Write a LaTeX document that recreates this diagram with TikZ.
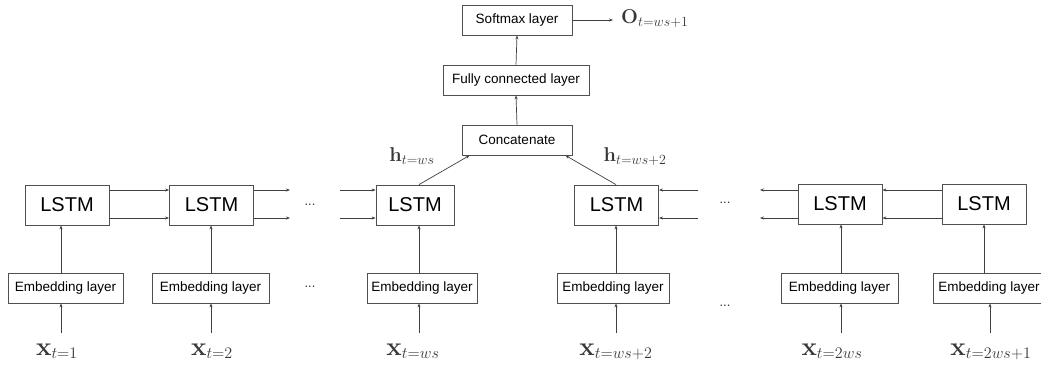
\documentclass[tikz,border=0pt]{standalone}
\usepackage{fix-cm}
\usepackage[no-math]{fontspec}
\setmainfont{Liberation Sans}
\usetikzlibrary{arrows.meta,calc}
\definecolor{boxgray}{HTML}{505050}
\definecolor{linegray}{HTML}{404040}
\definecolor{labelgray}{HTML}{383838}
% subscript of the input symbols: script style (tight spacing) at about 16pt
\newcommand{\insub}[1]{\mbox{\fontsize{23}{26}\selectfont$\scriptstyle #1$}}

\begin{document}
\begin{tikzpicture}[x=1pt,y=-1pt,
  box/.style={draw=boxgray, line width=0.8pt, inner sep=0pt, minimum height=30pt,
              font=\fontsize{13.5}{16}\selectfont},
  lstm/.style={box, minimum height=40pt, minimum width=84pt, font=\fontsize{20}{24}\selectfont},
  emb/.style={box, minimum width=115pt},
  arr/.style={draw=linegray, line width=0.7pt, -{Stealth[length=4pt,width=3pt]}},
  sym/.style={text=labelgray, font=\fontsize{26}{30}\selectfont, anchor=base, inner sep=0pt},
  hsym/.style={sym, font=\fontsize{20}{24}\selectfont},
  dotsnode/.style={font=\fontsize{13}{15}\selectfont, text=black!80, inner sep=0pt}
]
\useasboundingbox (0,0) rectangle (1041,365);

% LSTM cells
\node[lstm] (L1) at (67,205) {LSTM};
\node[lstm] (L2) at (211.5,205) {LSTM};
\node[lstm, minimum width=78pt] (L3) at (415,205) {LSTM};
\node[lstm] (L4) at (616.5,205) {LSTM};
\node[lstm] (L5) at (840,204) {LSTM};
\node[lstm] (L6) at (984,204) {LSTM};

% embedding layers
\node[emb] (E1) at (65.5,288) {Embedding layer};
\node[emb, minimum width=117pt] (E2) at (210.5,288) {Embedding layer};
\node[emb, minimum width=110pt] (E3) at (422,288) {Embedding layer};
\node[emb, minimum width=112pt] (E4) at (613,288) {Embedding layer};
\node[emb, minimum width=117pt] (E5) at (839.5,288) {Embedding layer};
\node[emb, minimum width=112pt] (E6) at (989,288) {Embedding layer};

% head of the network
\node[box, minimum width=110pt] (C) at (517,140) {Concatenate};
\node[box, minimum width=146pt] (F) at (516,80) {Fully connected layer};
\node[box, minimum width=110pt] (S) at (517,20) {Softmax layer};

% input symbols
\node[sym] (x1) at (57,355) {$\mathbf{x}_{\insub{t=1}}$};
\node[sym] (x2) at (212,355) {$\mathbf{x}_{\insub{t=2}}$};
\node[sym] (x3) at (413,355) {$\mathbf{x}_{\insub{t=ws}}$};
\node[sym] (x4) at (616,355) {$\mathbf{x}_{\insub{t=ws+2}}$};
\node[sym] (x5) at (832,355) {$\mathbf{x}_{\insub{t=2ws}}$};
\node[sym] (x6) at (991,355) {$\mathbf{x}_{\insub{t=2ws+1}}$};

% hidden states and output
\node[hsym] (h1) at (412,161) {$\mathbf{h}_{t=ws}$};
\node[hsym] (h2) at (635,161) {$\mathbf{h}_{t=ws+2}$};
\node[hsym, anchor=base west] (O) at (621,23) {$\mathbf{O}_{t=ws+1}$};
\coordinate (oend) at (613,20);

% ellipses
\node[dotsnode] (d1) at (310,205) {...};
\node[dotsnode] (d2) at (725,203) {...};
\node[dotsnode] (d3) at (310,287) {...};
\node[dotsnode] (d4) at (725,306) {...};

% helper coordinates
\coordinate (c1) at (61,333);
\coordinate (c2) at (211,333);
\coordinate (c3) at (419,333);
\coordinate (c4) at (616,333);
\coordinate (c5) at (841,333);
\coordinate (c6) at (990,333);
\coordinate (r1) at (0,190);
\coordinate (r2) at (0,218);
\coordinate (s1) at (290,0);
\coordinate (s2) at (340,0);
\coordinate (s3) at (698,0);
\coordinate (s4) at (760,0);

% inputs into embeddings
\foreach \i in {1,...,6}{
  \draw[arr] (c\i) -- (c\i |- E\i.south);
}
% embeddings into LSTMs
\foreach \i in {1,...,5}{
  \draw[arr] (c\i |- E\i.north) -- (c\i |- L\i.south);
}
\draw[arr] (L6.south |- E6.north) -- (L6.south);

% forward direction
\foreach \r in {r1,r2}{
  \draw[arr] (L1.east |- \r) -- (L2.west |- \r);
  \draw[arr] (L2.east |- \r) -- (s1 |- \r);
  \draw[arr] (s2 |- \r) -- (L3.west |- \r);
  % backward direction
  \draw[arr] (s3 |- \r) -- (L4.east |- \r);
  \draw[arr] (L5.west |- \r) -- (s4 |- \r);
  \draw[arr] (L6.west |- \r) -- (L5.east |- \r);
}

% into the head
\draw[arr] (L3.north -| c3) -- ([xshift=8pt]C.south west);
\draw[arr] (L4.north -| c4) -- ([xshift=-7pt]C.south east);
\draw[arr] (C.north) -- (F.south);
\draw[arr] (F.north) -- (S.south);
\draw[arr] (S.east) -- (oend);
\end{tikzpicture}
\end{document}
